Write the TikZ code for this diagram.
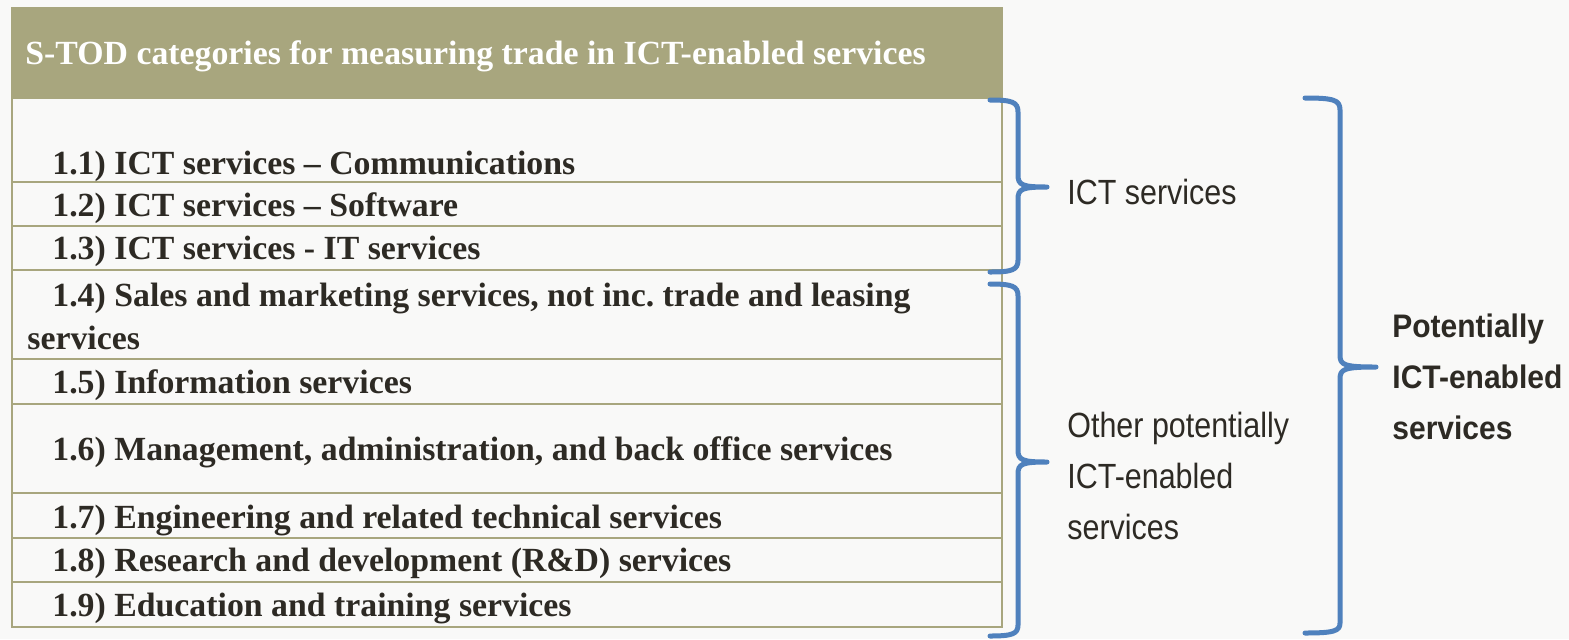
\documentclass[tikz,border=0pt]{standalone}
\usepackage{fontspec}
\setmainfont{Liberation Serif}
\newfontfamily\labelfont[FakeStretch=0.87]{Liberation Sans}
\newfontfamily\totalfont[FakeStretch=0.92]{Liberation Sans}
\usepackage{tikz}
\usetikzlibrary{positioning}
\definecolor{headolive}{HTML}{A8A67E}
\definecolor{rowline}{HTML}{A8A67E}
\definecolor{textdark}{HTML}{2D2A24}
\definecolor{braceblue}{HTML}{4F81BD}
\definecolor{paper}{HTML}{F9F9F8}

\begin{document}
\begin{tikzpicture}[x=0.5pt,y=-0.5pt]
                    \tikzstyle{every node}+=[inner sep=0pt]
                    \tikzstyle{cell}=[anchor=base west, text=textdark, font=\bfseries\fontsize{16.9}{20}\selectfont]
                    \tikzstyle{group}=[anchor=west, align=left, text=textdark, font=\labelfont\fontsize{17.5}{25.5}\selectfont]
                    \tikzstyle{total}=[anchor=west, align=left, text=textdark, font=\totalfont\bfseries\fontsize{16.3}{25.5}\selectfont]
                    \tikzstyle{brace}=[braceblue, line width=2.5pt, line cap=round, line join=round]
                    \tikzstyle{rule}=[rowline, line width=1pt]
                    \useasboundingbox (0,0) rectangle (1569,639);
                    \fill [paper] (0,0) rectangle (1569,639);
                    % table
                    \fill [headolive] (12,8) rectangle (1002,98);
                    \draw [rule] (12,8) rectangle (1002,627);
                    \draw [rule] (12,98) -- (1002,98);
                    \draw [rule] (12,182) -- (1002,182);
                    \draw [rule] (12,226) -- (1002,226);
                    \draw [rule] (12,270) -- (1002,270);
                    \draw [rule] (12,359) -- (1002,359);
                    \draw [rule] (12,404) -- (1002,404);
                    \draw [rule] (12,493) -- (1002,493);
                    \draw [rule] (12,538) -- (1002,538);
                    \draw [rule] (12,582) -- (1002,582);
                    \node [cell, text=white] (head) at (25,64) {S-TOD categories for measuring trade in ICT-enabled services};
                    \node [cell] (comms) at (52,174) {1.1) ICT services – Communications};
                    \node [cell] (software) at (52,216) {1.2) ICT services – Software};
                    \node [cell] (itserv) at (52,259) {1.3) ICT services - IT services};
                    \node [cell] (sales) at (52,306) {1.4) Sales and marketing services, not inc.\ trade and leasing};
                    \node [cell] (salesb) at (27,349) {services};
                    \node [cell] (info) at (52,393) {1.5) Information services};
                    \node [cell] (mgmt) at (52,460) {1.6) Management, administration, and back office services};
                    \node [cell] (eng) at (52,528) {1.7) Engineering and related technical services};
                    \node [cell] (rnd) at (52,571) {1.8) Research and development (R\&D) services};
                    \node [cell] (edu) at (52,616) {1.9) Education and training services};
                    % braces
                    \coordinate (ictTip) at (1047,187);
                    \coordinate (otherTip) at (1047,462);
                    \coordinate (allTip) at (1376,367);
                    \draw [brace] (990,100) .. controls (1012,100) and (1018,102) .. (1018,112) -- (1018,175)
                        .. controls (1018,185) and (1022,187) .. (ictTip) .. controls (1022,187) and (1018,189) .. (1018,199)
                        -- (1018,260) .. controls (1018,270) and (1012,272) .. (990,272);
                    \draw [brace] (990,284) .. controls (1012,284) and (1018,286) .. (1018,296) -- (1018,450)
                        .. controls (1018,460) and (1022,462) .. (otherTip) .. controls (1022,462) and (1018,464) .. (1018,474)
                        -- (1018,625) .. controls (1018,634) and (1012,636) .. (990,636);
                    \draw [brace] (1305,98) .. controls (1334,98) and (1340,100) .. (1340,110) -- (1340,355)
                        .. controls (1340,365) and (1344,367) .. (allTip) .. controls (1344,367) and (1340,369) .. (1340,379)
                        -- (1340,623) .. controls (1340,631) and (1334,633) .. (1305,633);
                    \node [group] (ictlabel) at (1067,192) {ICT services};
                    \node [group] (otherlabel) at (1067,476) {Other potentially\\ICT-enabled\\services};
                    \node [total] (alllabel) at (1392,377) {Potentially\\ICT-enabled\\services};
                \end{tikzpicture}
\end{document}
